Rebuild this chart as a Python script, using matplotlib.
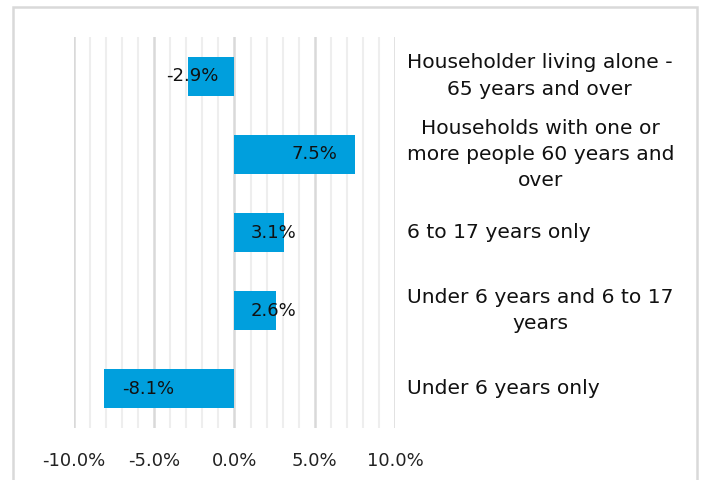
import matplotlib
matplotlib.use("Agg")
import matplotlib.pyplot as plt
from matplotlib.patches import Rectangle
from matplotlib.ticker import MultipleLocator, FuncFormatter

# Household types (bottom to top) and percentage change
categories = [
    "Under 6 years only",
    "Under 6 years and 6 to 17\nyears",
    "6 to 17 years only",
    "Households with one or\nmore people 60 years and\nover",
    "Householder living alone -\n65 years and over",
]
values = [-8.1, 2.6, 3.1, 7.5, -2.9]
value_labels = ["-8.1%", "2.6%", "3.1%", "7.5%", "-2.9%"]
label_x = [-5.4, 2.45, 2.45, 5.0, -2.6]

bar_color = "#009fdd"
major_grid = "#d9d9d9"
minor_grid = "#eeeeee"
font = "DejaVu Sans"

W, H = 703, 480
fig = plt.figure(figsize=(W / 100, H / 100), dpi=100)
fig.patch.set_facecolor("white")

ax = fig.add_axes([74 / W, 1 - 428 / H, (395 - 74) / W, (428 - 37) / H])
ypos = list(range(len(categories)))
ax.barh(ypos, values, height=0.5, color=bar_color, zorder=3)

ax.set_xlim(-10, 10)
ax.set_ylim(-0.5, len(categories) - 0.5)

ax.xaxis.set_major_locator(MultipleLocator(5))
ax.xaxis.set_minor_locator(MultipleLocator(1))
ax.xaxis.set_major_formatter(FuncFormatter(lambda v, p: f"{v:.1f}%"))
ax.grid(True, which="minor", axis="x", color=minor_grid, lw=1.5, zorder=0)
ax.grid(True, which="major", axis="x", color=major_grid, lw=1.8, zorder=1)
ax.set_yticks([])
ax.tick_params(axis="x", which="both", length=0, pad=17, labelsize=13,
               labelcolor="#222222")
for lbl in ax.get_xticklabels():
    lbl.set_fontfamily(font)
for s in ax.spines.values():
    s.set_visible(False)

for y, v, lx, txt in zip(ypos, values, label_x, value_labels):
    ax.text(lx, y, txt, ha="center", va="center", fontsize=13,
            family=font, color="#111111", zorder=4)

for y, cat in zip(ypos, categories):
    ax.text(10.75, y, cat, ha="left", va="center", multialignment="center",
            fontsize=14.6, family=font, color="#111111", linespacing=1.48,
            clip_on=False)

# chart frame
fig.patches.append(Rectangle((13 / W, -0.2), (697 - 13) / W, 1.2 - 7 / H,
                             transform=fig.transFigure, fill=False,
                             edgecolor=major_grid, lw=1.8))

fig.savefig("out.png", dpi=100)
